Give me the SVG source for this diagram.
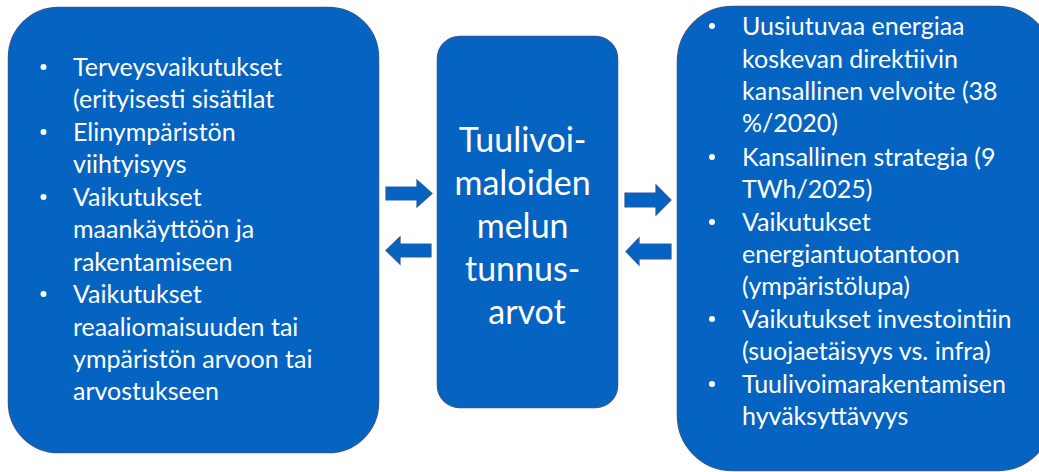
<svg xmlns="http://www.w3.org/2000/svg" width="1039" height="472" viewBox="0 0 1039 472">
  <style>
    .box { fill: #0563C1; stroke: #2a5a9e; stroke-width: 1.5; }
    .arrow { fill: #0563C1; stroke: #2a5a9e; stroke-width: 1.2; stroke-linejoin: miter; }
    .list { font-family: Lato, "Liberation Sans", sans-serif; font-size: 25px; fill: #ffffff; }
    .title { font-family: Lato, "Liberation Sans", sans-serif; font-size: 34px; fill: #ffffff; text-anchor: middle; }
    .dot { fill: #ffffff; }
  </style>
  <rect width="1039" height="472" fill="#ffffff"/>

  <!-- left: affected interests -->
  <g id="impacts">
    <rect class="box" x="8.5" y="7.5" width="370" height="445" rx="50" ry="50"/>
    <circle class="dot" cx="43.5" cy="67" r="3"/>
    <circle class="dot" cx="43.5" cy="132" r="3"/>
    <circle class="dot" cx="43.5" cy="197" r="3"/>
    <circle class="dot" cx="43.5" cy="294" r="3"/>
    <text class="list" x="73">
      <tspan x="73" y="76">Terveysvaikutukset</tspan>
      <tspan x="73" y="108">(erityisesti sisätilat</tspan>
      <tspan x="73" y="141">Elinympäristön</tspan>
      <tspan x="73" y="173">viihtyisyys</tspan>
      <tspan x="73" y="206">Vaikutukset</tspan>
      <tspan x="73" y="238">maankäyttöön ja</tspan>
      <tspan x="73" y="271">rakentamiseen</tspan>
      <tspan x="73" y="303">Vaikutukset</tspan>
      <tspan x="73" y="336">reaaliomaisuuden tai</tspan>
      <tspan x="73" y="368">ympäristön arvoon tai</tspan>
      <tspan x="73" y="400">arvostukseen</tspan>
    </text>
  </g>

  <!-- centre: noise guideline values -->
  <g id="guidelines">
    <rect class="box" x="437.5" y="36.5" width="180" height="371" rx="22" ry="22"/>
    <text class="title">
      <tspan x="527" y="152">Tuulivoi-</tspan>
      <tspan x="527" y="195">maloiden</tspan>
      <tspan x="527" y="238">melun</tspan>
      <tspan x="527" y="281">tunnus-</tspan>
      <tspan x="527" y="324">arvot</tspan>
    </text>
  </g>

  <!-- right: energy policy targets -->
  <g id="energy">
    <rect class="box" x="677.5" y="6.5" width="375" height="464" rx="55" ry="55"/>
    <circle class="dot" cx="712" cy="26" r="3"/>
    <circle class="dot" cx="712" cy="157" r="3"/>
    <circle class="dot" cx="712" cy="222" r="3"/>
    <circle class="dot" cx="712" cy="319" r="3"/>
    <circle class="dot" cx="712" cy="384" r="3"/>
    <text class="list">
      <tspan x="742" y="35">Uusiutuvaa energiaa</tspan>
      <tspan x="742" y="68">koskevan direktiivin</tspan>
      <tspan x="742" y="100">kansallinen velvoite (38</tspan>
      <tspan x="742" y="132">%/2020)</tspan>
      <tspan x="742" y="166">Kansallinen strategia (9</tspan>
      <tspan x="742" y="198">TWh/2025)</tspan>
      <tspan x="742" y="231">Vaikutukset</tspan>
      <tspan x="742" y="263">energiantuotantoon</tspan>
      <tspan x="742" y="295">(ympäristölupa)</tspan>
      <tspan x="742" y="328">Vaikutukset investointiin</tspan>
      <tspan x="742" y="360">(suojaetäisyys vs. infra)</tspan>
      <tspan x="742" y="393">Tuulivoimarakentamisen</tspan>
      <tspan x="742" y="425">hyväksyttävyys</tspan>
    </text>
  </g>

  <!-- block arrows between the boxes -->
  <g id="connectors">
    <path class="arrow" d="M386,187 H417 V180 L432,193.5 L417,207 V200 H386 Z"/>
    <path class="arrow" d="M431,244 H400 V237 L386,250.5 L400,264 V257 H431 Z"/>
    <path class="arrow" d="M625,193 H656 V185 L671,200 L656,215 V207 H625 Z"/>
    <path class="arrow" d="M671,244 H639 V238 L626,251.5 L639,265 V259 H671 Z"/>
  </g>
</svg>
